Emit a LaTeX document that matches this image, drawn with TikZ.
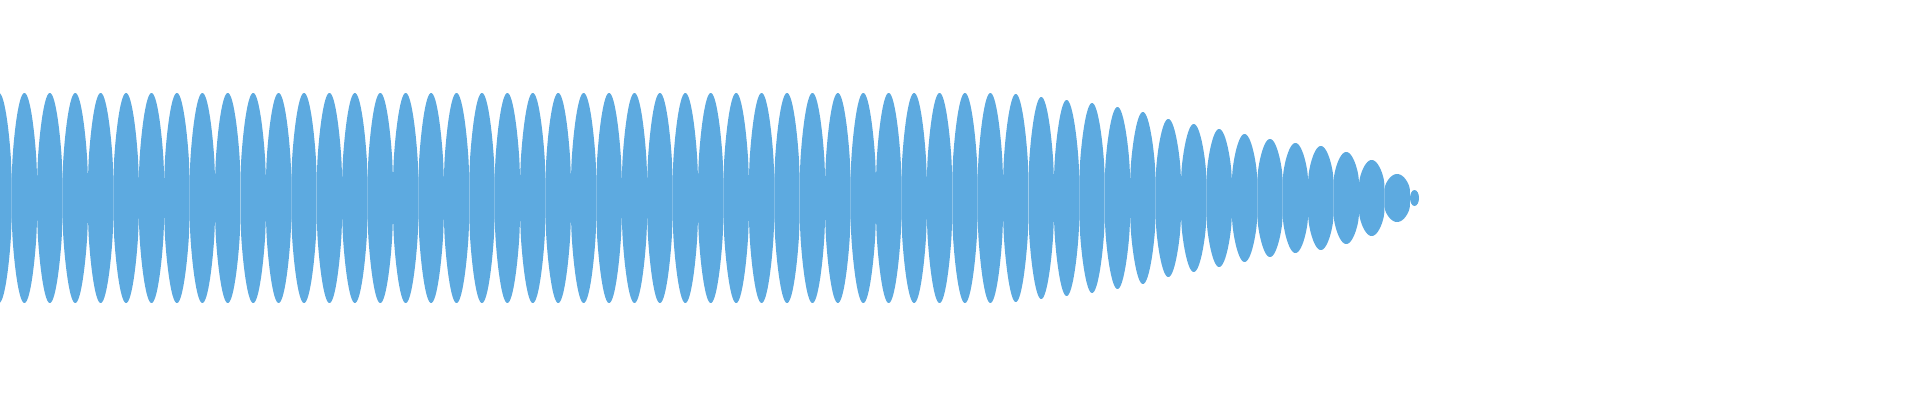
\documentclass[tikz,border=0pt]{standalone}
\definecolor{wave}{HTML}{5DAAE0}
\begin{document}
\begin{tikzpicture}[x=1pt,y=1pt,lobe/.style={fill=wave}]
\useasboundingbox (0,0) rectangle (1920,400);
\clip (0,0) rectangle (1920,400);
\def\P{25.42}
\def\c{202}
\foreach \k/\A in {-1/105,0/105,1/105,2/105,3/105,4/105,5/105,6/105,7/105,8/105,9/105,10/105,11/105,12/105,13/105,14/105,15/105,16/105,17/105,18/105,19/105,20/105,21/105,22/105,23/105,24/105,25/105,26/105,27/105,28/105,29/105,30/105,31/105,32/105,33/105,34/105,35/105,36/105,37/105,38/105,39/104,40/101,41/98,42/95,43/91,44/86,45/79,46/74,47/69,48/64,49/59,50/55,51/52,52/46,53/38,54/24}{
  \pgfmathsetmacro{\xa}{11.7+\P*\k}
  \pgfmathsetmacro{\w}{min(17,0.35*\A)}
  \fill[lobe] plot[domain=0.001:0.999,samples=40,smooth] ({\xa+\P*\x},{\c+\w+(\A-\w)*(sin(180*\x))^0.6})
    -- plot[domain=0.999:0.001,samples=40,smooth] ({\xa+\P*\x},{\c-\w-(\A-\w)*(sin(180*\x))^0.6}) -- cycle;
}
\fill[lobe] (1414.5,\c) ellipse (4.5 and 8);
\end{tikzpicture}
\end{document}
